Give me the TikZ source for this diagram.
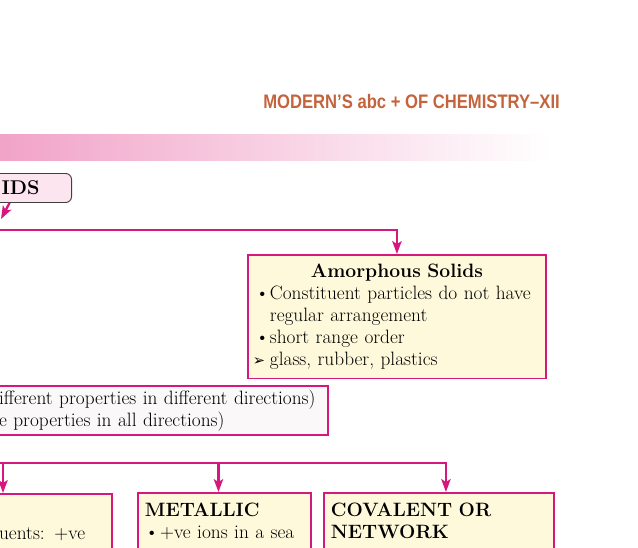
\documentclass[tikz,border=0pt]{standalone}
\usepackage{fontspec}
\usepackage{graphicx}
\newfontfamily\dingfont{DejaVu Sans}
\newfontfamily\headfont{Liberation Sans}
\usetikzlibrary{arrows.meta, positioning, calc}
\usepackage{xcolor}
\definecolor{magentaline}{HTML}{D6177E}
\definecolor{boxyellow}{HTML}{FEF9DA}
\definecolor{boxwhite}{HTML}{FBF8F9}
\definecolor{bandpink}{HTML}{F1A3C8}
\definecolor{titlepink}{HTML}{FCE5EF}
\definecolor{headbrown}{HTML}{C4643C}
\tikzstyle{infobox} = [rectangle, draw=magentaline, line width=1.6pt, fill=boxyellow, align=left, inner xsep=0.15cm, inner ysep=0.15cm, font=\fontsize{16.5}{18.8}\selectfont]
\tikzstyle{titlebox} = [rectangle, rounded corners=5pt, draw=black!75, line width=0.8pt, fill=titlepink, font=\fontsize{17}{20}\selectfont\bfseries]
\tikzstyle{arrow} = [line width=2pt, draw=magentaline, -{Stealth[length=11pt, width=8pt, inset=2.5pt]}]
\newcommand{\bulletmark}{\makebox[14.5pt][l]{\hspace{2pt}\textbullet}}
\newcommand{\arrowmark}{\makebox[14.5pt][l]{\dingfont\fontsize{12.5}{12.5}\selectfont ➢}}

\begin{document}
\begin{tikzpicture}[x=0.03cm, y=-0.03cm]
    \useasboundingbox (0,0) rectangle (638,547);
    \clip (0,0) rectangle (638,547);

    % page head
    \node (head) [anchor=base east, inner sep=0pt, text=headbrown, font=\headfont\bfseries\fontsize{16.7}{20}\selectfont] at (560,108) {\scalebox{0.85}[1]{MODERN’S abc + OF CHEMISTRY–XII}};
    \shade [left color=bandpink, right color=white] (0,134) rectangle (550,160);

    \node (solids) [titlebox, anchor=east, text width=1.8cm, align=right, inner xsep=0.96cm, minimum height=0.87cm] at (72,188) {IDS};
    \node (amorph) [infobox, anchor=north west, text width=8.64cm, minimum height=3.63cm, inner ysep=0.27cm] at (247,254) {\makebox[\linewidth][c]{\bfseries Amorphous Solids}\\
        \bulletmark Constituent particles do not have\\
        \hspace*{14.5pt}regular arrangement\\
        \bulletmark short range order\\
        \arrowmark glass, rubber, plastics};
    \node (aniso) [infobox, fill=boxwhite, anchor=north east, text width=9.72cm, minimum height=1.44cm, inner ysep=0.12cm] at (329,385) {ifferent properties in different directions)\\
        e properties in all directions)};

    \node (ionic) [infobox, anchor=north east, text width=3.24cm, text depth=1.2cm, inner ysep=0.3cm] at (113,493) {\vphantom{M}\\uents: +ve};
    \node (metallic) [infobox, anchor=north west, text width=4.77cm, inner xsep=0.21cm, text depth=1.2cm, inner ysep=0.3cm] at (137,492) {\textbf{METALLIC}\\
        \makebox[13pt][l]{\textbullet}+ve ions in a sea};
    \node (covalent) [infobox, anchor=north west, text width=6.48cm, inner xsep=0.21cm, text depth=1.2cm, inner ysep=0.3cm] at (323,492) {\textbf{COVALENT OR}\\
        \textbf{NETWORK}};

    % connectors
    \coordinate (crystal) at (1,219);
    \coordinate (split1) at (-5,230);
    \coordinate (split2) at (-5,463);
    \coordinate (ionicin) at (3,463);
    \draw [arrow] (solids.south) -- (crystal);
    \draw [arrow] (split1) -| (amorph.north);
    \draw [arrow] (ionicin) -- (ionicin |- ionic.north);
    \foreach \n/\dx in {metallic/-6, covalent/7} {
        \draw [arrow] (split2) -| ([xshift=\dx*0.03cm]\n.north);
    }
\end{tikzpicture}
\end{document}
